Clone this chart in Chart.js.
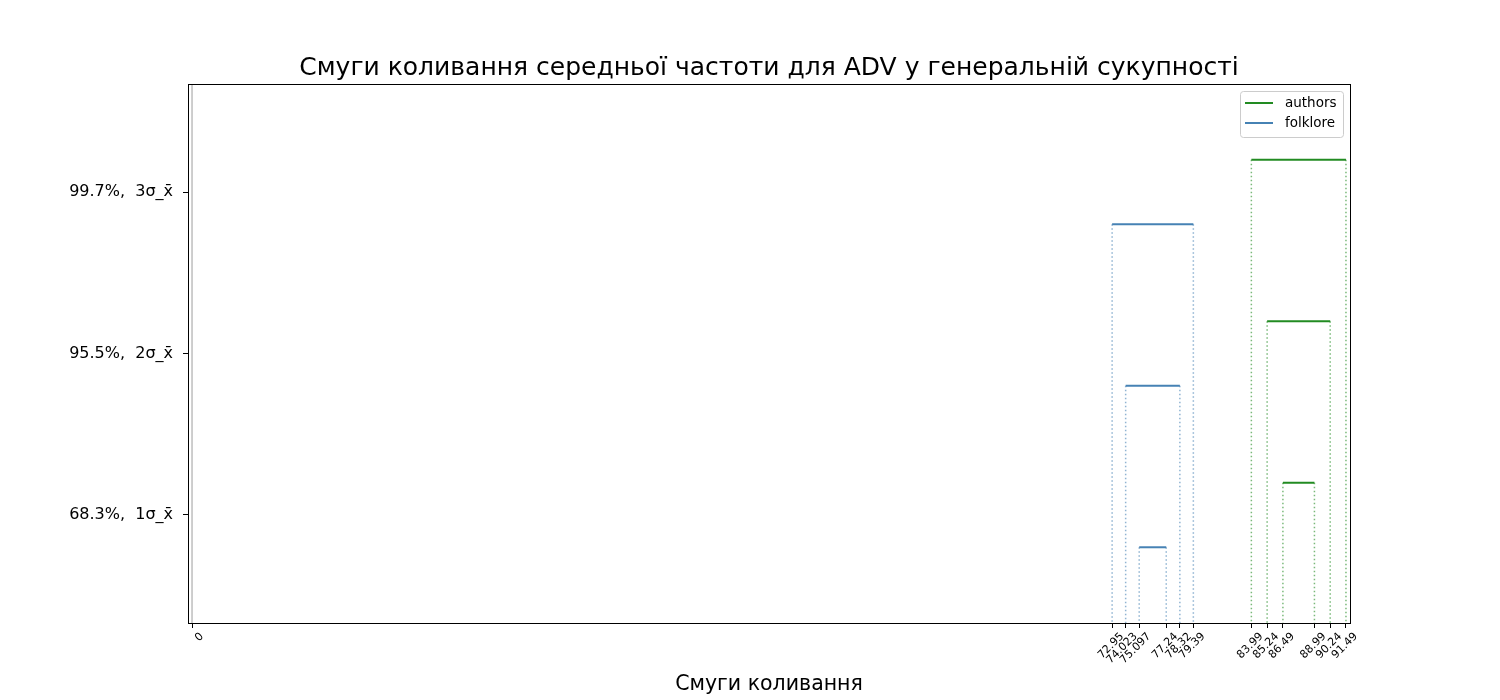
<!DOCTYPE html>
<html>
<head>
<meta charset="utf-8">
<script src="https://cdn.jsdelivr.net/npm/chart.js@4.4.1/dist/chart.umd.min.js"></script>
<style>
  body { margin: 0; background: #fff; }
  #wrap { width: 1500px; height: 700px; }
</style>
</head>
<body>
<div id="wrap"><canvas id="chart"></canvas></div>
<script>
// band limits per sigma level (1, 2, 3)
const sigmaLevels = [1, 2, 3];
const levelLabels = ["68.3%,  1σ_x\u0304", "95.5%,  2σ_x\u0304", "99.7%,  3σ_x\u0304"];

const authorsLow = [86.49, 85.24, 83.99];
const authorsHigh = [88.99, 90.24, 91.49];
const folkloreLow = [75.097, 74.023, 72.95];
const folkloreHigh = [77.24, 78.32, 79.39];

// vertical shift of each group's bands from the level line
const authorsShift = 0.2;
const folkloreShift = -0.2;

const xTicks = [0, 72.95, 74.023, 75.097, 77.24, 78.32, 79.39,
                83.99, 85.24, 86.49, 88.99, 90.24, 91.49];

const X_MIN = -0.32, X_MAX = 91.81;
const Y_MIN = 0.331, Y_MAX = 3.669;

const GREEN = "rgb(34, 139, 34)";
const GREEN_DOT = "rgba(34, 139, 34, 0.6)";
const BLUE = "rgb(70, 130, 180)";
const BLUE_DOT = "rgba(70, 130, 180, 0.6)";

const FONT = "'DejaVu Sans', sans-serif";

function bandDatasets(name, low, high, shift, color, dotColor) {
  const sets = [];
  sigmaLevels.forEach((lvl, i) => {
    const y = lvl + shift;
    sets.push({
      label: name,
      data: [{ x: low[i], y: y }, { x: high[i], y: y }],
      borderColor: color,
      borderWidth: 2
    });
    [low[i], high[i]].forEach(v => {
      sets.push({
        label: name + " edge",
        data: [{ x: v, y: y }, { x: v, y: Y_MIN }],
        borderColor: dotColor,
        borderWidth: 1.5,
        borderDash: [1.5, 2.5]
      });
    });
  });
  return sets;
}

const datasets = [
  {
    label: "zero",
    data: [{ x: 0, y: Y_MIN }, { x: 0, y: Y_MAX }],
    borderColor: "rgb(190, 190, 190)",
    borderWidth: 1.5
  },
  ...bandDatasets("authors", authorsLow, authorsHigh, authorsShift, GREEN, GREEN_DOT),
  ...bandDatasets("folklore", folkloreLow, folkloreHigh, folkloreShift, BLUE, BLUE_DOT)
];

// frame around the plot + legend box in the upper right corner
const framePlugin = {
  id: "frame",
  afterDraw(chart) {
    const { ctx, chartArea: a } = chart;
    ctx.save();
    ctx.strokeStyle = "#000";
    ctx.lineWidth = 1;
    ctx.strokeRect(Math.round(a.left) + 0.5, Math.round(a.top) + 0.5,
                   Math.round(a.right - a.left), Math.round(a.bottom - a.top));

    const items = [["authors", GREEN], ["folklore", BLUE]];
    const boxW = 103, boxH = 46;
    const bx = a.right - 7 - boxW, by = a.top + 7;
    ctx.fillStyle = "rgba(255,255,255,0.8)";
    ctx.strokeStyle = "#cccccc";
    ctx.beginPath();
    ctx.roundRect(bx + 0.5, by + 0.5, boxW, boxH, 3);
    ctx.fill();
    ctx.stroke();
    ctx.font = "13.5px " + FONT;
    ctx.textBaseline = "middle";
    items.forEach(([name, color], i) => {
      const y = by + 12 + i * 20;
      ctx.strokeStyle = color;
      ctx.lineWidth = 2;
      ctx.beginPath();
      ctx.moveTo(bx + 5, y);
      ctx.lineTo(bx + 33, y);
      ctx.stroke();
      ctx.fillStyle = "#000";
      ctx.fillText(name, bx + 45, y);
    });
    ctx.restore();
  }
};

new Chart(document.getElementById("chart"), {
  type: "scatter",
  data: { datasets: datasets },
  options: {
    responsive: true,
    maintainAspectRatio: false,
    animation: false,
    showLine: true,
    elements: { point: { radius: 0 } },
    layout: { padding: { top: 0, right: 150, bottom: 0, left: 0 } },
    plugins: {
      legend: { display: false },
      tooltip: { enabled: false },
      title: {
        display: true,
        fullSize: false,
        text: "Смуги коливання середньої частоти для ADV у генеральній сукупності",
        color: "#000",
        font: { family: FONT, size: 25, weight: "normal" },
        padding: { top: 53, bottom: 1 }
      }
    },
    scales: {
      x: {
        type: "linear",
        min: X_MIN,
        max: X_MAX,
        afterBuildTicks: s => { s.ticks = xTicks.map(v => ({ value: v })); },
        afterFit: s => { s.height = 77; },
        grid: { drawOnChartArea: false, drawTicks: true, tickLength: 5, color: "#000" },
        border: { display: true, color: "#000" },
        ticks: {
          autoSkip: false,
          minRotation: 45,
          maxRotation: 45,
          padding: 2,
          labelOffset: 10,
          color: "#000",
          font: { family: FONT, size: 11 },
          callback: v => String(v)
        },
        title: {
          display: true,
          text: "Смуги коливання",
          color: "#000",
          font: { family: FONT, size: 20.5 },
          padding: { top: 0, bottom: 3 }
        }
      },
      y: {
        min: Y_MIN,
        max: Y_MAX,
        afterBuildTicks: s => { s.ticks = sigmaLevels.map(v => ({ value: v })); },
        afterFit: s => { s.width = 188; },
        grid: { drawOnChartArea: false, drawTicks: true, tickLength: 5, color: "#000" },
        border: { display: true, color: "#000" },
        ticks: {
          padding: 10,
          color: "#000",
          font: { family: FONT, size: 16 },
          callback: v => levelLabels[sigmaLevels.indexOf(v)]
        }
      }
    }
  },
  plugins: [framePlugin]
});
</script>
</body>
</html>
